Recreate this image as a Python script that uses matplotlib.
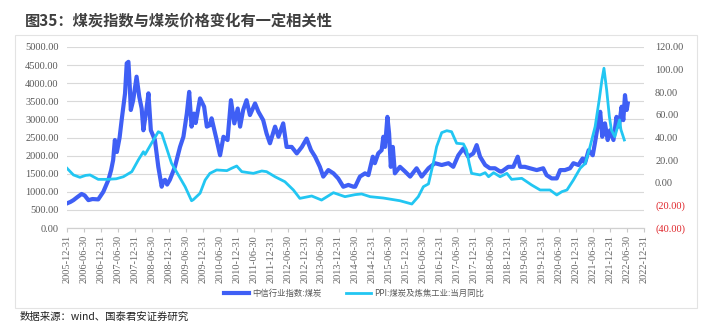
import matplotlib
matplotlib.use('Agg')
import matplotlib.pyplot as plt
from matplotlib.patches import Rectangle

plt.rcParams['font.family'] = ['Noto Sans CJK SC', 'DejaVu Sans']

# 中信行业指数:煤炭 (left axis), x in decimal years
idx_t = [2006.00, 2006.10, 2006.19, 2006.30, 2006.43, 2006.52, 2006.63, 2006.75, 2006.92,
         2007.07, 2007.22, 2007.30, 2007.36, 2007.41, 2007.47, 2007.55, 2007.61, 2007.71,
         2007.76, 2007.81, 2007.85, 2007.88, 2007.95, 2008.05, 2008.13, 2008.20, 2008.25,
         2008.33, 2008.40, 2008.47, 2008.59, 2008.69, 2008.79, 2008.84, 2008.89, 2008.95,
         2009.03, 2009.18, 2009.33, 2009.43, 2009.53, 2009.60, 2009.67, 2009.74, 2009.79,
         2009.92, 2010.04, 2010.12, 2010.21, 2010.26, 2010.41, 2010.51, 2010.61, 2010.73,
         2010.83, 2010.93, 2011.03, 2011.10, 2011.19, 2011.29, 2011.39, 2011.54, 2011.64,
         2011.78, 2011.88, 2011.98, 2012.13, 2012.23, 2012.37, 2012.47, 2012.62, 2012.77,
         2012.92, 2013.06, 2013.19, 2013.31, 2013.45, 2013.55, 2013.70, 2013.85, 2013.99,
         2014.14, 2014.29, 2014.44, 2014.49, 2014.63, 2014.78, 2014.88, 2015.01, 2015.07,
         2015.17, 2015.27, 2015.32, 2015.37, 2015.44, 2015.49, 2015.54, 2015.60, 2015.66,
         2015.81, 2015.96, 2016.11, 2016.30, 2016.45, 2016.65, 2016.84, 2017.04, 2017.24,
         2017.38, 2017.53, 2017.68, 2017.82, 2017.97, 2018.07, 2018.17, 2018.32, 2018.46,
         2018.61, 2018.76, 2018.81, 2019.00, 2019.15, 2019.28, 2019.35, 2019.49, 2019.64,
         2019.84, 2020.03, 2020.13, 2020.28, 2020.43, 2020.53, 2020.67, 2020.82, 2020.92,
         2021.07, 2021.19, 2021.26, 2021.37, 2021.49, 2021.56, 2021.65, 2021.71, 2021.77,
         2021.85, 2021.93, 2022.00, 2022.10, 2022.19, 2022.26, 2022.34, 2022.39, 2022.44,
         2022.49, 2022.52]
idx_v = [680, 720, 770, 850, 940, 900, 770, 800, 790,
         1000, 1330, 1600, 1880, 2430, 2100, 2500, 2980, 3720,
         4550, 4590, 3900, 3260, 3530, 4180, 3620, 3300, 2700,
         3200, 3720, 2700, 2430, 1690, 1140, 1300, 1330, 1200,
         1330, 1690, 2240, 2520, 3160, 3760, 2800, 3160, 2900,
         3580, 3350, 2800, 2840, 3030, 2430, 2010, 2520, 2430,
         3530, 2890, 3300, 2800, 3260, 3530, 3120, 3440, 3210,
         2980, 2610, 2340, 2800, 2520, 2890, 2240, 2240, 2060,
         2240, 2470, 2150, 1970, 1690, 1420, 1600, 1510, 1370,
         1140, 1190, 1140, 1140, 1420, 1510, 1460, 1970, 1790,
         2060, 2150, 2520, 2240, 3070, 2610, 1690, 2240, 1510,
         1690, 1560, 1420, 1650, 1420, 1650, 1790, 1740, 1790,
         1690, 2010, 2200, 1970, 2060, 2290, 1970, 1740, 1650,
         1650, 1560, 1560, 1690, 1690, 1970, 1690, 1690, 1650,
         1600, 1650, 1460, 1370, 1370, 1600, 1600, 1650, 1790,
         1740, 1920, 1790, 2150, 2010, 2380, 2890, 3210, 2520,
         2890, 2430, 2700, 2430, 3070, 2800, 3350, 2980, 3670,
         3260, 3440]

# PPI:煤炭及炼焦工业:当月同比 (right axis, %)
ppi_t = [2006.00, 2006.19, 2006.38, 2006.55, 2006.68, 2006.92, 2007.17, 2007.45, 2007.66,
         2007.91, 2008.10, 2008.25, 2008.30, 2008.49, 2008.69, 2008.79, 2008.92, 2009.08,
         2009.28, 2009.48, 2009.67, 2009.72, 2009.92, 2010.07, 2010.21, 2010.41, 2010.71,
         2010.85, 2011.00, 2011.15, 2011.49, 2011.74, 2011.88, 2012.13, 2012.42, 2012.67,
         2012.86, 2013.21, 2013.50, 2013.85, 2014.19, 2014.49, 2014.68, 2014.93, 2015.32,
         2015.81, 2016.16, 2016.35, 2016.50, 2016.65, 2016.79, 2016.89, 2017.04, 2017.19,
         2017.33, 2017.48, 2017.68, 2017.77, 2017.85, 2017.92, 2018.17, 2018.32, 2018.42,
         2018.57, 2018.76, 2018.96, 2019.10, 2019.40, 2019.69, 2019.94, 2020.23, 2020.43,
         2020.58, 2020.73, 2020.92, 2021.12, 2021.27, 2021.41, 2021.56, 2021.68, 2021.76,
         2021.82, 2021.90, 2021.98, 2022.04, 2022.14, 2022.28, 2022.32, 2022.42]
ppi_v = [12.8, 6.9, 4.8, 6.5, 6.9, 3.0, 3.0, 3.5, 5.3,
         9.8, 20.1, 27.4, 25.0, 34.9, 45.1, 43.7, 31.9, 17.2,
         6.9, -3.5, -15.9, -15.0, -9.3, 2.4, 8.3, 11.3, 10.7,
         12.8, 14.8, 9.8, 8.3, 10.4, 9.8, 5.3, 0.9, -6.4,
         -13.8, -11.7, -15.3, -8.8, -12.3, -10.5, -9.9, -12.3, -13.5,
         -15.9, -18.8, -12.3, -3.5, -1.0, 17.2, 31.9, 44.3, 46.0,
         45.1, 34.9, 34.3, 29.0, 17.2, 8.3, 6.9, 8.9, 5.3,
         8.9, 5.3, 8.3, 3.0, 3.9, -2.0, -6.4, -6.4, -10.8,
         -7.9, -6.4, 2.4, 12.8, 17.2, 31.9, 49.6, 73.2, 90.8,
         101.2, 82.0, 58.4, 46.6, 40.7, 55.5, 47.0, 37.8]

tick_pos = [2006 + 0.5 * i for i in range(35)]
tick_lab = []
for p in tick_pos:
    if p == int(p):
        tick_lab.append(str(int(p) - 1) + '-12-31')
    else:
        tick_lab.append(str(int(p)) + '-06-30')

left_ticks = list(range(0, 5001, 500))
right_ticks = list(range(-40, 121, 20))

fig = plt.figure(figsize=(7.01, 3.26), dpi=100)
fig.patch.set_facecolor('white')
# chart panel border
panel = Rectangle((15 / 701, 1 - 308 / 326), 682 / 701, 273 / 326,
                  transform=fig.transFigure, facecolor='white',
                  edgecolor='#e3e3e3', linewidth=0.8, zorder=-10)
fig.patches.append(panel)

ax = fig.add_axes([67 / 701, 1 - 228 / 326, 577 / 701, 181 / 326])
ax2 = ax.twinx()

blue = '#3f5ff5'
cyan = '#22c6f2'

l1, = ax.plot(idx_t, idx_v, color=blue, linewidth=3.0, solid_joinstyle='round', zorder=3)
l2, = ax2.plot(ppi_t, ppi_v, color=cyan, linewidth=2.0, zorder=2)

ax.set_xlim(2006, 2023)
ax.set_ylim(0, 5000)
ax2.set_ylim(-40, 120)
ax.set_yticks(left_ticks)
ax.set_yticklabels(['%.2f' % v for v in left_ticks])
ax2.set_yticks(right_ticks)
ax2.set_yticklabels(['(%.2f)' % -v if v < 0 else '%.2f' % v for v in right_ticks])
for lab, v in zip(ax2.get_yticklabels(), right_ticks):
    lab.set_color('#e0262b' if v < 0 else '#595959')

ax.set_xticks(tick_pos)
ax.set_xticklabels(tick_lab, rotation=90)

ax.grid(axis='y', color='#d9d9d9', linewidth=0.8)
ax.set_axisbelow(True)
for a in (ax, ax2):
    for s in ('top', 'left', 'right'):
        a.spines[s].set_visible(False)
    a.spines['bottom'].set_color('#d0d0d0')
    a.patch.set_alpha(0)

ax.tick_params(axis='y', length=0, pad=6, labelsize=7.5, labelcolor='#595959')
ax2.tick_params(axis='y', length=0, pad=8, labelsize=7.5)
ax.tick_params(axis='x', length=3, color='#c8c8c8', pad=2, labelsize=7.5, labelcolor='#666666')
for lab in ax.get_xticklabels() + ax.get_yticklabels() + ax2.get_yticklabels():
    lab.set_family('Liberation Serif')

fig.text(25 / 701, 1 - 22 / 326, '图35：煤炭指数与煤炭价格变化有一定相关性',
         fontsize=11, fontweight='bold', color='#3f3f3f', va='center', ha='left')
fig.text(20 / 701, 1 - 317 / 326, '数据来源：wind、国泰君安证券研究',
         fontsize=7.5, color='#222222', va='center', ha='left')

fig.legend([l1, l2], ['中信行业指数:煤炭', 'PPI:煤炭及炼焦工业:当月同比'],
           loc='center', bbox_to_anchor=(354 / 701, 1 - 293 / 326), ncol=2,
           frameon=False, fontsize=6, handlelength=3, columnspacing=3,
           handletextpad=0.4, labelcolor='#595959')

fig.savefig('out.png', dpi=100, facecolor=fig.get_facecolor())
